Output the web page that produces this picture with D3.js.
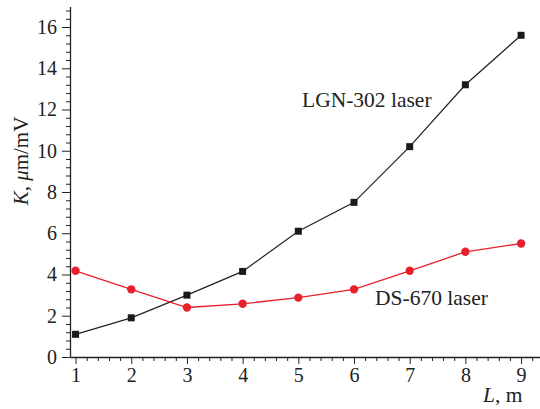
<!DOCTYPE html>
<head lang="en">
<meta charset="utf-8">
<title>K vs L</title>
<style>
body { margin:0; background:#fff; }
svg text { font-family:"Liberation Serif", "DejaVu Serif", serif; }
</style>
<script src="https://cdnjs.cloudflare.com/ajax/libs/d3/7.8.5/d3.min.js"></script>
</head>
<body>
<script>
// distance L, m
var distances = [1, 2, 3, 4, 5, 6, 7, 8, 9];
// K for the LGN-302 laser
var lgnValues = [1.1, 1.9, 3.0, 4.15, 6.1, 7.5, 10.2, 13.2, 15.6];
// K for the DS-670 laser
var dsValues = [4.18, 3.28, 2.4, 2.58, 2.88, 3.28, 4.18, 5.1, 5.5];
var xTicks = [1, 2, 3, 4, 5, 6, 7, 8, 9];
var yTicks = [0, 2, 4, 6, 8, 10, 12, 14, 16];

var width = 540,
	height = 409;
var serif = "'Liberation Serif', 'DejaVu Serif', serif";

var svg = d3.select("body").append("svg")
	.attr("width", width)
	.attr("height", height);

var x = d3.scaleLinear().domain([0.9, 9.34]).range([70, 540]);
var y = d3.scaleLinear().domain([0, 17]).range([357, 6.4]);

// minor ticks
var xMinor = d3.range(1, 9.3, 0.2).filter(function(v) { return Math.abs(v - Math.round(v)) > 0.01; });
var yMinor = d3.range(0, 17.01, 0.4).filter(function(v) { return Math.abs(v/2 - Math.round(v/2)) > 0.01; });

svg.append("g")
	.attr("transform", "translate(0,357)")
	.call(d3.axisBottom(x).tickValues(xMinor).tickSize(4).tickFormat(""))
	.call(function(g) { g.select(".domain").remove(); })
	.selectAll("line").attr("stroke", "#222");

svg.append("g")
	.attr("transform", "translate(70,0)")
	.call(d3.axisLeft(y).tickValues(yMinor).tickSize(4).tickFormat(""))
	.call(function(g) { g.select(".domain").remove(); })
	.selectAll("line").attr("stroke", "#222");

var xAxis = svg.append("g")
	.attr("transform", "translate(0,357)")
	.call(d3.axisBottom(x).tickValues(xTicks).tickSize(7).tickSizeOuter(0).tickPadding(4).tickFormat(d3.format("d")));
xAxis.attr("font-family", serif);
xAxis.select(".domain").attr("stroke", "#222").attr("stroke-width", 1.3);
xAxis.selectAll("line").attr("stroke", "#222");
xAxis.selectAll("text").style("font-size", "20px").style("font-family", serif).attr("fill", "#222");

var yAxis = svg.append("g")
	.attr("transform", "translate(70,0)")
	.call(d3.axisLeft(y).tickValues(yTicks).tickSize(8).tickSizeOuter(0).tickPadding(5).tickFormat(d3.format("d")));
yAxis.attr("font-family", serif);
yAxis.select(".domain").attr("stroke", "#222").attr("stroke-width", 1.3);
yAxis.selectAll("line").attr("stroke", "#222");
yAxis.selectAll("text").style("font-size", "20px").style("font-family", serif).attr("fill", "#222");

var line = d3.line()
	.x(function(d) { return x(d[0]); })
	.y(function(d) { return y(d[1]); });

var lgnData = d3.zip(distances, lgnValues);
var dsData = d3.zip(distances, dsValues);

svg.append("path")
	.attr("d", line(lgnData))
	.attr("fill", "none")
	.attr("stroke", "#222")
	.attr("stroke-width", 1.2);

svg.append("path")
	.attr("d", line(dsData))
	.attr("fill", "none")
	.attr("stroke", "#e8202c")
	.attr("stroke-width", 1.3);

svg.selectAll("rect.lgn")
	.data(lgnData)
	.enter()
	.append("rect")
		.attr("class", "lgn")
		.attr("x", function(d) { return x(d[0]) - 3.5; })
		.attr("y", function(d) { return y(d[1]) - 3.5; })
		.attr("width", 7)
		.attr("height", 7)
		.attr("fill", "#1a1a1a");

svg.selectAll("circle.ds")
	.data(dsData)
	.enter()
	.append("circle")
		.attr("class", "ds")
		.attr("cx", function(d) { return x(d[0]); })
		.attr("cy", function(d) { return y(d[1]); })
		.attr("r", 4.2)
		.attr("fill", "#e8202c");

// series labels
svg.append("text")
	.attr("x", 302)
	.attr("y", 107)
	.style("font-size", "21.5px")
	.style("font-family", serif)
	.attr("fill", "#222")
	.text("LGN-302 laser");

svg.append("text")
	.attr("x", 375)
	.attr("y", 305)
	.style("font-size", "21.5px")
	.style("font-family", serif)
	.attr("fill", "#222")
	.text("DS-670 laser");

// axis titles
var xt = svg.append("text")
	.attr("x", 483)
	.attr("y", 402)
	.style("font-size", "21.5px")
	.style("font-family", serif)
	.attr("fill", "#222");
xt.append("tspan").style("font-style", "italic").text("L");
xt.append("tspan").text(", m");

var yt = svg.append("text")
	.attr("transform", "translate(28,161) rotate(-90)")
	.attr("text-anchor", "middle")
	.style("font-size", "21px")
	.style("font-family", serif)
	.attr("fill", "#222");
yt.append("tspan").style("font-style", "italic").text("K");
yt.append("tspan").text(", ");
yt.append("tspan").style("font-style", "italic").text("\u03bc");
yt.append("tspan").text("m/mV");
</script>
</body>
</html>
